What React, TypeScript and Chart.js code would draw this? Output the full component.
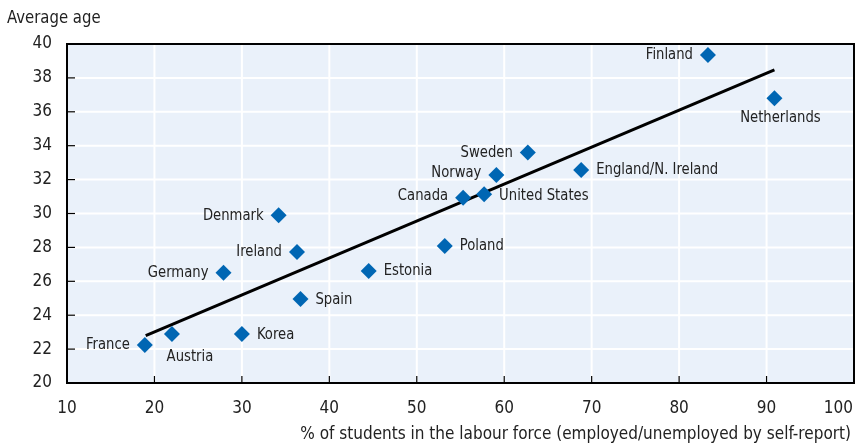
import React, { useEffect, useRef } from 'react';
import { Chart, registerables } from 'chart.js';
Chart.register(...registerables);

const countries = ['Finland', 'Netherlands', 'England/N. Ireland', 'Sweden', 'Norway', 'United States', 'Canada', 'Poland', 'Estonia', 'Denmark', 'Ireland', 'Germany', 'Spain', 'France', 'Austria', 'Korea'];
const labourForcePct = [83.3, 90.9, 68.8, 62.7, 59.1, 57.7, 55.3, 53.2, 44.5, 34.2, 36.3, 27.9, 36.7, 18.9, 22.0, 30.0];
const averageAge = [39.35, 36.8, 32.57, 33.6, 32.27, 31.13, 30.93, 28.08, 26.61, 29.89, 27.73, 26.51, 24.96, 22.24, 22.89, 22.89];
const trendX = [19.0, 90.9];
const trendY = [22.8, 38.47];
const xTickValues = [10, 20, 30, 40, 50, 60, 70, 80, 90, 100];
const yTickValues = [20, 22, 24, 26, 28, 30, 32, 34, 36, 38, 40];
const yAxisTitle = 'Average age';
const xAxisTitle = '% of students in the labour force (employed/unemployed by self-report)';

// label placement (style)
const labelStyle: Record<string, { side: string; dx?: number; dy?: number }> = {
  'Finland': { side: 'left' },
  'Netherlands': { side: 'below', dx: 6, dy: 19 },
  'England/N. Ireland': { side: 'right' },
  'Sweden': { side: 'left' },
  'Norway': { side: 'left', dy: -2 },
  'United States': { side: 'right', dy: 1 },
  'Canada': { side: 'left', dy: -2 },
  'Poland': { side: 'right' },
  'Estonia': { side: 'right' },
  'Denmark': { side: 'left' },
  'Ireland': { side: 'left' },
  'Germany': { side: 'left' },
  'Spain': { side: 'right', dy: 1 },
  'France': { side: 'left' },
  'Austria': { side: 'below', dx: 18, dy: 23 },
  'Korea': { side: 'right', dy: 1 },
};

const FONT = "'Liberation Sans Narrow', 'DejaVu Sans Condensed', 'Arial Narrow', sans-serif";
const BLUE = '#0066b3';
const BG = '#eaf1fa';
const TEXT = '#222';

function drawText(ctx: any, text: string, x: number, y: number, align: string, sx: number) {
  ctx.save();
  ctx.translate(x, y);
  ctx.scale(sx, 1);
  ctx.textAlign = align;
  ctx.fillText(text, 0, 0);
  ctx.restore();
}

export default function App() {
  const ref = useRef<HTMLCanvasElement | null>(null);

  useEffect(() => {
    document.body.style.margin = '0';
    if (!ref.current) return;

    const decor = {
      id: 'decor',
      beforeDraw(chart: any) {
        const { ctx, chartArea: a } = chart;
        ctx.save();
        ctx.fillStyle = BG;
        ctx.fillRect(a.left, a.top, a.right - a.left, a.bottom - a.top);
        ctx.restore();
      },
      beforeDatasetsDraw(chart: any) {
        const { ctx, chartArea: a, scales } = chart;
        const xs = scales.x, ys = scales.y;
        ctx.save();
        ctx.strokeStyle = '#ffffff';
        ctx.lineWidth = 2;
        xTickValues.forEach((v) => {
          const px = xs.getPixelForValue(v);
          ctx.beginPath(); ctx.moveTo(px, a.top); ctx.lineTo(px, a.bottom); ctx.stroke();
        });
        yTickValues.forEach((v) => {
          const py = ys.getPixelForValue(v);
          ctx.beginPath(); ctx.moveTo(a.left, py); ctx.lineTo(a.right, py); ctx.stroke();
        });
        // inner tick marks
        ctx.strokeStyle = '#000';
        ctx.lineWidth = 1.2;
        yTickValues.forEach((v) => {
          const py = ys.getPixelForValue(v);
          ctx.beginPath(); ctx.moveTo(a.left, py); ctx.lineTo(a.left + 8, py); ctx.stroke();
        });
        xTickValues.forEach((v) => {
          const px = xs.getPixelForValue(v);
          ctx.beginPath(); ctx.moveTo(px, a.bottom); ctx.lineTo(px, a.bottom - 7); ctx.stroke();
        });
        // box
        ctx.lineWidth = 2;
        ctx.strokeRect(a.left, a.top, a.right - a.left, a.bottom - a.top);
        ctx.restore();
      },
      afterDatasetsDraw(chart: any) {
        const { ctx } = chart;
        const meta = chart.getDatasetMeta(0);
        ctx.save();
        ctx.font = `16.5px ${FONT}`;
        ctx.fillStyle = TEXT;
        ctx.textBaseline = 'middle';
        const sx = 0.89;
        countries.forEach((c, i) => {
          const el = meta.data[i];
          const st = labelStyle[c] || { side: 'right' };
          const dx = st.dx || 0, dy = st.dy || 0;
          if (st.side === 'left') {
            drawText(ctx, c, el.x - 15 + dx, el.y + dy, 'right', sx);
          } else if (st.side === 'right') {
            drawText(ctx, c, el.x + 15 + dx, el.y + dy, 'left', sx);
          } else {
            drawText(ctx, c, el.x + dx, el.y + dy, 'center', sx);
          }
        });
        ctx.restore();
      },
      afterDraw(chart: any) {
        const { ctx, chartArea: a, scales } = chart;
        ctx.save();
        ctx.fillStyle = TEXT;
        ctx.font = `17px ${FONT}`;
        ctx.textBaseline = 'middle';
        xTickValues.forEach((v, i) => {
          const px = scales.x.getPixelForValue(v);
          if (i === xTickValues.length - 1) {
            ctx.textAlign = 'right';
            ctx.fillText(String(v), a.right - 1, 409);
          } else {
            ctx.textAlign = 'center';
            ctx.fillText(String(v), px, 409);
          }
        });
        ctx.textAlign = 'right';
        ctx.fillText(xAxisTitle, a.right - 3, 435);
        ctx.font = `18px ${FONT}`;
        drawText(ctx, yAxisTitle, 7, 18, 'left', 0.92);
        ctx.restore();
      },
    };

    const chart = new Chart(ref.current, {
      type: 'scatter',
      data: {
        datasets: [
          {
            type: 'scatter',
            data: countries.map((_, i) => ({ x: labourForcePct[i], y: averageAge[i] })),
            pointStyle: 'rectRot',
            pointRadius: 8,
            pointHoverRadius: 8,
            backgroundColor: BLUE,
            borderWidth: 0,
          } as any,
          {
            type: 'line',
            data: trendX.map((x, i) => ({ x, y: trendY[i] })),
            borderColor: '#000',
            borderWidth: 3,
            pointRadius: 0,
            fill: false,
          } as any,
        ],
      },
      options: {
        animation: false,
        responsive: false,
        layout: { autoPadding: false, padding: { top: 44, right: 3, left: 0, bottom: 0 } },
        plugins: { legend: { display: false }, tooltip: { enabled: false } },
        scales: {
          x: {
            type: 'linear',
            min: 10,
            max: 100,
            ticks: { display: false, stepSize: 10 },
            grid: { display: false, drawTicks: false },
            border: { display: false },
            afterFit: (s: any) => { s.height = 60; s.paddingLeft = 0; s.paddingRight = 0; },
          },
          y: {
            type: 'linear',
            min: 20,
            max: 40,
            ticks: { stepSize: 2, padding: 15, color: TEXT, font: { family: FONT, size: 17 } },
            grid: { display: false, drawTicks: false },
            border: { display: false },
            afterFit: (s: any) => { s.width = 67; s.paddingTop = 0; s.paddingBottom = 0; },
          },
        },
      },
      plugins: [decor],
    });
    return () => chart.destroy();
  }, []);

  return (
    <div style={{ width: 857, height: 443 }}>
      <canvas ref={ref} width={857} height={443} />
    </div>
  );
}
